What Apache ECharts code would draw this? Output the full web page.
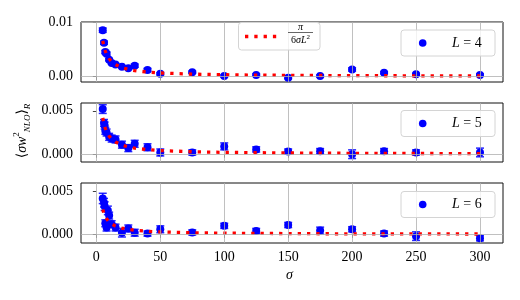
<!DOCTYPE html>
<html>
<head>
<meta charset="utf-8">
<script src="https://cdn.jsdelivr.net/npm/echarts@6/dist/echarts.min.js"></script>
<style>html,body{margin:0;padding:0;background:#fff}#c{width:520px;height:300px}</style>
</head>
<body>
<div id="c"></div>
<script>
// ---- data ----
const xTicks = [0, 50, 100, 150, 200, 250, 300];
const yTicks4 = [0, 0.01];
const yTicks5 = [0, 0.005];
const yTicks6 = [0, 0.005];

const sigma4 = [5, 6, 7, 8, 10, 12, 15, 20, 25, 30, 40, 50, 75, 100, 125, 150, 175, 200, 225, 250, 300];
const val4 = [0.0085, 0.0062, 0.0045, 0.0042, 0.0031, 0.0025, 0.0022, 0.0018, 0.0015, 0.0020, 0.0012, 0.0005, 0.0008, 0.0001, 0.0003, -0.0002, 0.0001, 0.0013, 0.0007, 0.0004, 0.0003];
const err4 = [0.0004, 0.0003, 0.0003, 0.0003, 0.0002, 0.0002, 0.0002, 0.0002, 0.0002, 0.0003, 0.0003, 0.0002, 0.0002, 0.0002, 0.0002, 0.0002, 0.0002, 0.0003, 0.0002, 0.0002, 0.0002];

const sigma5 = [5, 6, 6.5, 7, 8, 10, 12, 15, 20, 25, 30, 40, 50, 75, 100, 125, 150, 175, 200, 225, 250, 300];
const val5 = [0.0052, 0.0036, 0.0033, 0.0027, 0.0025, 0.0020, 0.0018, 0.0017, 0.0011, 0.0007, 0.0012, 0.0008, 0.0002, 0.0002, 0.0009, 0.00055, 0.0003, 0.00035, 0.0000, 0.00035, 0.0002, 0.0002];
const err5 = [0.0005, 0.0004, 0.0004, 0.0004, 0.0004, 0.0004, 0.0004, 0.0004, 0.0004, 0.0004, 0.0004, 0.0004, 0.0004, 0.0003, 0.0004, 0.0003, 0.0003, 0.0003, 0.0005, 0.0003, 0.0003, 0.0005];

const sigma6 = [5, 6, 6.5, 7, 8, 9, 10, 12, 15, 20, 25, 30, 40, 50, 75, 100, 125, 150, 175, 200, 225, 250, 300];
const val6 = [0.0042, 0.0037, 0.0033, 0.0013, 0.0008, 0.0028, 0.0022, 0.0012, 0.0008, 0.0002, 0.0007, 0.0002, 0.0001, 0.0006, 0.00023, 0.0010, 0.0004, 0.0011, 0.00045, 0.0006, 0.0001, -0.0002, -0.00045];
const err6 = [0.0006, 0.0005, 0.0005, 0.0004, 0.0004, 0.0005, 0.0004, 0.0004, 0.0004, 0.0005, 0.0004, 0.0004, 0.0003, 0.0004, 0.0003, 0.0003, 0.0003, 0.0003, 0.0004, 0.0003, 0.0003, 0.0005, 0.0003];

const curveSigma = [5, 6, 7, 8, 10, 12, 15, 20, 25, 30, 40, 50, 75, 100, 125, 150, 175, 200, 225, 250, 300];
const curve4 = [0.00654, 0.00545, 0.00467, 0.00409, 0.00327, 0.00273, 0.00218, 0.00164, 0.00131, 0.00109, 0.00082, 0.00065, 0.00044, 0.00033, 0.00026, 0.00022, 0.00019, 0.00016, 0.00015, 0.00013, 0.00011];
const curve5 = [0.00419, 0.00349, 0.00299, 0.00262, 0.00209, 0.00175, 0.00140, 0.00105, 0.00084, 0.00070, 0.00052, 0.00042, 0.00028, 0.00021, 0.00017, 0.00014, 0.00012, 0.00010, 0.00009, 0.00008, 0.00007];
const curve6 = [0.00291, 0.00242, 0.00208, 0.00182, 0.00145, 0.00121, 0.00097, 0.00073, 0.00058, 0.00048, 0.00036, 0.00029, 0.00019, 0.00015, 0.00012, 0.00010, 0.00008, 0.00007, 0.00006, 0.00006, 0.00005];

const legendLabels = ['L = 4', 'L = 5', 'L = 6'];

// ---- chart ----
const FONT = '"Liberation Serif", "DejaVu Serif", serif';
const BLUE = '#0000ff';
const RED = '#ff0000';

const panels = [
  {sig: sigma4, val: val4, err: err4, curve: curve4, yt: yTicks4, min: -0.001, max: 0.01, dec: 2, top: 22, height: 60},
  {sig: sigma5, val: val5, err: err5, curve: curve5, yt: yTicks5, min: -0.0009, max: 0.0059, dec: 3, top: 103, height: 59},
  {sig: sigma6, val: val6, err: err6, curve: curve6, yt: yTicks6, min: -0.001, max: 0.006, dec: 3, top: 183, height: 60}
];

const grid = [], xAxis = [], yAxis = [], series = [];
panels.forEach((p, i) => {
  grid.push({left: 81, right: 17, top: p.top, height: p.height, show: true,
    borderColor: '#111', borderWidth: 1, backgroundColor: 'transparent'});
  xAxis.push({type: 'value', gridIndex: i, min: -12, max: 318,
    axisLine: {show: false}, splitLine: {show: false},
    axisTick: {show: true, length: 3.5, lineStyle: {color: '#111', width: 0.8}, customValues: xTicks},
    axisLabel: {show: i === 2, customValues: xTicks, margin: 7, fontFamily: FONT, fontSize: 14, color: '#000'}
  });
  yAxis.push({type: 'value', gridIndex: i, min: p.min, max: p.max,
    axisLine: {show: false}, splitLine: {show: false},
    axisTick: {show: true, length: 3.5, lineStyle: {color: '#111', width: 0.8}, customValues: p.yt},
    axisLabel: {show: true, customValues: p.yt, margin: 8, fontFamily: FONT, fontSize: 14, color: '#000',
      formatter: v => Number(v).toFixed(p.dec)}
  });
  // grid lines
  series.push({type: 'line', xAxisIndex: i, yAxisIndex: i, data: [], z: 1, silent: true,
    markLine: {silent: true, symbol: ['none', 'none'], label: {show: false}, animation: false,
      lineStyle: {color: '#b0b0b0', width: 0.8, type: 'solid'},
      emphasis: {disabled: true},
      data: xTicks.map(v => ({xAxis: v})).concat(p.yt.map(v => ({yAxis: v})))}
  });
  // error bars
  series.push({type: 'custom', xAxisIndex: i, yAxisIndex: i, z: 2, silent: true,
    encode: {x: 0, y: [1, 2]},
    data: p.sig.map((s, k) => [s, p.val[k] - p.err[k], p.val[k] + p.err[k]]),
    renderItem: function (params, api) {
      const x = api.value(0);
      const a = api.coord([x, api.value(1)]);
      const b = api.coord([x, api.value(2)]);
      const w = 4;
      const st = {stroke: BLUE, lineWidth: 1.5, opacity: 0.85};
      return {type: 'group', children: [
        {type: 'line', shape: {x1: a[0], y1: a[1], x2: b[0], y2: b[1]}, style: st},
        {type: 'line', shape: {x1: a[0] - w, y1: a[1], x2: a[0] + w, y2: a[1]}, style: st},
        {type: 'line', shape: {x1: b[0] - w, y1: b[1], x2: b[0] + w, y2: b[1]}, style: st}
      ]};
    }
  });
  // points
  series.push({type: 'scatter', xAxisIndex: i, yAxisIndex: i, z: 3, symbol: 'circle', symbolSize: 8,
    itemStyle: {color: BLUE, opacity: 1},
    data: p.sig.map((s, k) => [s, p.val[k]])});
  // curve
  series.push({type: 'line', xAxisIndex: i, yAxisIndex: i, z: 4, showSymbol: false, symbol: 'none',
    lineStyle: {color: RED, width: 3.3, type: [3.3, 6], cap: 'butt'},
    data: curveSigma.map((s, k) => [s, p.curve[k]])});
});

const graphic = [];
const legendY = [30, 110.5, 191.5];
legendY.forEach((y, i) => {
  graphic.push({type: 'rect', shape: {x: 401, y: y, width: 94, height: 26, r: 3},
    style: {fill: 'rgba(255,255,255,0.8)', stroke: '#d4d4d4', lineWidth: 1}, z: 100});
  graphic.push({type: 'circle', shape: {cx: 422.7, cy: y + 13, r: 3.8}, style: {fill: BLUE}, z: 101});
  const parts = legendLabels[i].split(' = ');
  graphic.push({type: 'text', x: 452, y: y + 13, z: 101,
    style: {text: '{i|' + parts[0] + '} = ' + parts[1], font: '14px ' + FONT, fill: '#000',
      align: 'left', textAlign: 'left', verticalAlign: 'middle', textVerticalAlign: 'middle',
      rich: {i: {fontStyle: 'italic', fontFamily: FONT, fontSize: 14}}}});
});
// curve legend
graphic.push({type: 'rect', shape: {x: 238.5, y: 22.5, width: 81.5, height: 27.5, r: 3},
  style: {fill: 'rgba(255,255,255,0.8)', stroke: '#d4d4d4', lineWidth: 1}, z: 100});
graphic.push({type: 'line', shape: {x1: 245, y1: 36.5, x2: 278, y2: 36.5},
  style: {stroke: RED, lineWidth: 3.3, lineDash: [3.3, 6], lineCap: 'butt'}, z: 101});
graphic.push({type: 'text', x: 300.5, y: 27.5, z: 101,
  style: {text: 'π', font: 'italic 10px ' + FONT, fill: '#000', align: 'center', textAlign: 'center',
    verticalAlign: 'middle', textVerticalAlign: 'middle'}});
graphic.push({type: 'line', shape: {x1: 288, y1: 32.5, x2: 313, y2: 32.5},
  style: {stroke: '#000', lineWidth: 0.6}, z: 101});
graphic.push({type: 'text', x: 300.5, y: 39.5, z: 101,
  style: {text: '{n|6}{i|σL}{s|2}', fill: '#000', align: 'center', textAlign: 'center',
    verticalAlign: 'middle', textVerticalAlign: 'middle',
    rich: {n: {fontFamily: FONT, fontSize: 10, lineHeight: 12, verticalAlign: 'bottom'},
           i: {fontFamily: FONT, fontSize: 10, fontStyle: 'italic', lineHeight: 12, verticalAlign: 'bottom'},
           s: {fontFamily: FONT, fontSize: 7, lineHeight: 8, verticalAlign: 'top'}}}});
// y label
graphic.push({type: 'text', x: 22, y: 131, rotation: Math.PI / 2, z: 101,
  style: {text: '{b|⟨}{a|σw}{sup|2}{sub|NLO}{b|⟩}{sub|R}', fill: '#000',
    align: 'center', textAlign: 'center', verticalAlign: 'middle', textVerticalAlign: 'middle',
    rich: {b: {fontFamily: FONT, fontSize: 14, lineHeight: 20, verticalAlign: 'middle'},
           a: {fontFamily: FONT, fontSize: 14, fontStyle: 'italic', lineHeight: 20, verticalAlign: 'middle'},
           sup: {fontFamily: FONT, fontSize: 9, lineHeight: 10, verticalAlign: 'top'},
           sub: {fontFamily: FONT, fontSize: 9, fontStyle: 'italic', lineHeight: 10, verticalAlign: 'bottom'}}}});
// x label
graphic.push({type: 'text', x: 289.5, y: 275, z: 101,
  style: {text: 'σ', font: 'italic 14px ' + FONT, fill: '#000', align: 'center', textAlign: 'center',
    verticalAlign: 'middle', textVerticalAlign: 'middle'}});

const chart = echarts.init(document.getElementById('c'), null, {renderer: 'canvas'});
chart.setOption({animation: false, tooltip: {show: false}, grid, xAxis, yAxis, series, graphic});
</script>
</body>
</html>
